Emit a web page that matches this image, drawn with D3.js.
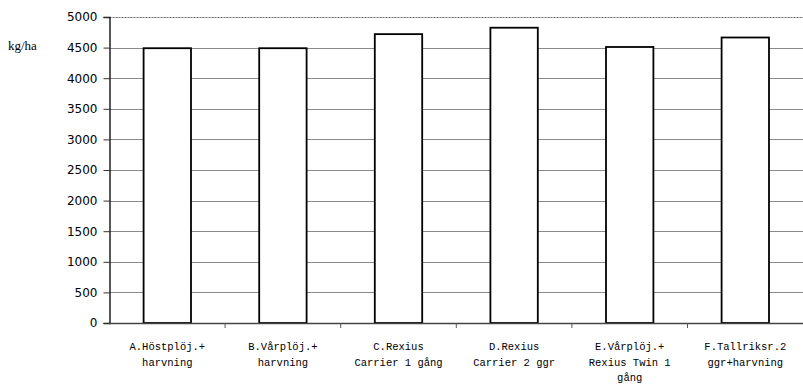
<!DOCTYPE html>
<html>
<head>
<meta charset="utf-8">
<script src="https://cdn.jsdelivr.net/npm/d3@7"></script>
<style>
  html, body { margin: 0; padding: 0; background: #fff; }
  svg { display: block; }
</style>
</head>
<body>
<svg id="chart" width="803" height="389"></svg>
<script>
// Yield per treatment (kg/ha)
const categories = [
  ["A.Höstplöj.+", "harvning"],
  ["B.Vårplöj.+", "harvning"],
  ["C.Rexius", "Carrier 1 gång"],
  ["D.Rexius", "Carrier 2 ggr"],
  ["E.Vårplöj.+", "Rexius Twin 1", "gång"],
  ["F.Tallriksr.2", "ggr+harvning"]
];
const values = [4490, 4490, 4720, 4825, 4510, 4665];
const yTicks = [0, 500, 1000, 1500, 2000, 2500, 3000, 3500, 4000, 4500, 5000];
const unitLabel = "kg/ha";

const svg = d3.select("#chart");
const margin = { left: 109.5, right: 0, top: 17, bottom: 66 };
const W = 803, H = 389;

const x = d3.scaleBand()
  .domain(d3.range(categories.length))
  .range([margin.left, margin.left + 6 * 115.6])
  .paddingInner(0.59)
  .paddingOuter(0.295);

const y = d3.scaleLinear()
  .domain([0, 5000])
  .range([323, margin.top]);

// Horizontal gridlines
svg.append("g")
  .selectAll("line")
  .data(yTicks.filter(t => t > 0 && t < 5000))
  .join("line")
  .attr("x1", margin.left).attr("x2", W)
  .attr("y1", d => Math.round(y(d)) + 0.5).attr("y2", d => Math.round(y(d)) + 0.5)
  .attr("stroke", "#8a8a8a").attr("stroke-width", 1);

// Top frame line
svg.append("line")
  .attr("x1", margin.left).attr("x2", W)
  .attr("y1", Math.round(y(5000)) + 0.5).attr("y2", Math.round(y(5000)) + 0.5)
  .attr("stroke", "#666").attr("stroke-width", 1.2)
  .attr("stroke-dasharray", "2,1");

// Bars
svg.append("g")
  .selectAll("rect")
  .data(values)
  .join("rect")
  .attr("x", (d, i) => x(i))
  .attr("width", x.bandwidth())
  .attr("y", d => y(d))
  .attr("height", d => y(0) - y(d))
  .attr("fill", "#fff")
  .attr("stroke", "#000")
  .attr("stroke-width", 1.8);

// Y axis
const yAxis = d3.axisLeft(y).tickValues(yTicks).tickSize(6).tickPadding(6).tickFormat(d3.format("d"));
const gy = svg.append("g")
  .attr("transform", `translate(${margin.left},0)`)
  .call(yAxis);
gy.select(".domain").attr("stroke", "#000").attr("stroke-width", 1.3);
gy.selectAll(".tick line").attr("stroke", "#333");
gy.selectAll(".tick text")
  .attr("font-family", "DejaVu Sans, sans-serif")
  .attr("font-size", 12)
  .attr("fill", "#000");

// X axis: baseline and boundary ticks between categories
const bounds = d3.range(1, categories.length).map(i => x(i) - x.step() * x.paddingInner() / 2);
svg.append("line")
  .attr("x1", margin.left).attr("x2", W)
  .attr("y1", y(0) + 0.5).attr("y2", y(0) + 0.5)
  .attr("stroke", "#444").attr("stroke-width", 1.4);
svg.append("g")
  .selectAll("line")
  .data(bounds)
  .join("line")
  .attr("x1", d => d).attr("x2", d => d)
  .attr("y1", y(0)).attr("y2", y(0) + 5)
  .attr("stroke", "#555");

// Category labels
const lab = svg.append("g")
  .selectAll("text")
  .data(categories)
  .join("text")
  .attr("text-anchor", "middle")
  .attr("font-family", "Liberation Mono, monospace")
  .attr("font-size", 10.5)
  .attr("fill", "#000")
  .attr("transform", (d, i) => `translate(${x(i) + x.bandwidth() / 2},350)`);
lab.selectAll("tspan")
  .data(d => d)
  .join("tspan")
  .attr("x", 0)
  .attr("y", (d, j) => j * 15.5)
  .text(d => d);

// Unit label
svg.append("text")
  .attr("x", 8).attr("y", 50)
  .attr("font-family", "Liberation Serif, serif")
  .attr("font-size", 13)
  .attr("fill", "#000")
  .text(unitLabel);
</script>
</body>
</html>
